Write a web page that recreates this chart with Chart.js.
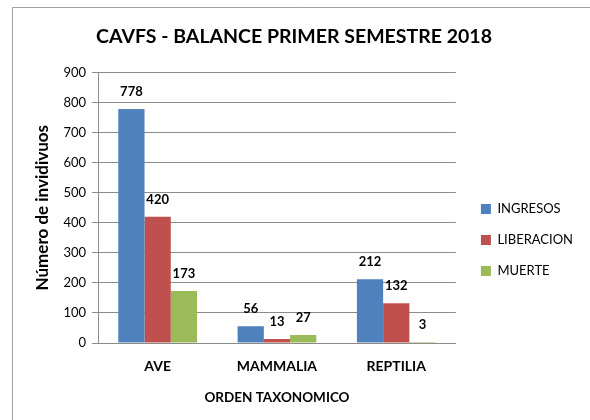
<!DOCTYPE html>
<html>
<head>
<meta charset="utf-8">
<script src="https://cdn.jsdelivr.net/npm/chart.js@4"></script>
<style>
  body { margin: 0; background: #fff; }
  #wrap { width: 590px; height: 420px; }
</style>
</head>
<body>
<div id="wrap"><canvas id="bar-chart" width="590" height="420"></canvas></div>
<script>
// datos del grafico
const categorias = ['AVE', 'MAMMALIA', 'REPTILIA'];
const ingresos = [778, 56, 212];
const liberacion = [420, 13, 132];
const muerte = [173, 27, 3];
const yTicks = [0, 100, 200, 300, 400, 500, 600, 700, 800, 900];

const FONT = 'Lato, "Liberation Sans", sans-serif';

// marco gris alrededor del grafico
const marco = {
  id: 'marco',
  beforeDraw(chart) {
    const ctx = chart.ctx;
    ctx.save();
    ctx.fillStyle = '#fff';
    ctx.fillRect(0, 0, chart.width, chart.height);
    ctx.strokeStyle = '#a0a0a0';
    ctx.lineWidth = 1;
    ctx.beginPath();
    ctx.moveTo(12.5, 430);
    ctx.lineTo(12.5, 7.5);
    ctx.lineTo(600, 7.5);
    ctx.stroke();
    ctx.restore();
  }
};

// etiquetas de valor encima de cada barra
const etiquetas = {
  id: 'etiquetas',
  afterDatasetsDraw(chart) {
    const ctx = chart.ctx;
    ctx.save();
    ctx.font = 'bold 13px ' + FONT;
    ctx.fillStyle = '#000';
    ctx.textAlign = 'center';
    ctx.textBaseline = 'middle';
    chart.data.datasets.forEach(function (ds, i) {
      chart.getDatasetMeta(i).data.forEach(function (bar, j) {
        ctx.fillText(ds.data[j], bar.x, bar.y - 17);
      });
    });
    ctx.restore();
  }
};

// mover la leyenda a su sitio
const moverLeyenda = {
  id: 'moverLeyenda',
  afterLayout(chart) {
    const lg = chart.legend;
    lg.left += 7; lg.right += 7;
    lg.top += 35; lg.bottom += 35;
  }
};

new Chart(document.getElementById('bar-chart'), {
  type: 'bar',
  data: {
    labels: categorias,
    datasets: [
      { label: 'INGRESOS', data: ingresos, backgroundColor: '#4F81BD' },
      { label: 'LIBERACION', data: liberacion, backgroundColor: '#C0504D' },
      { label: 'MUERTE', data: muerte, backgroundColor: '#9BBB59' }
    ]
  },
  options: {
    responsive: false,
    animation: false,
    layout: { padding: { left: 12, top: 0, right: 14, bottom: 10 } },
    datasets: { bar: { categoryPercentage: 0.66, barPercentage: 1.0 } },
    plugins: {
      title: {
        display: true,
        text: 'CAVFS - BALANCE PRIMER SEMESTRE 2018',
        color: '#000',
        font: { family: FONT, size: 19.5, weight: 'bold' },
        padding: { top: 25, bottom: 24 }
      },
      legend: {
        position: 'right',
        labels: {
          color: '#000',
          boxWidth: 10,
          boxHeight: 10,
          padding: 18,
          font: { family: FONT, size: 13 }
        }
      },
      tooltip: { enabled: false }
    },
    scales: {
      x: {
        grid: { display: false, drawTicks: false },
        border: { color: '#8c8c8c' },
        ticks: { color: '#000', padding: 15, font: { family: FONT, size: 14, weight: 'bold' } },
        title: {
          display: true, text: 'ORDEN TAXONOMICO', color: '#000',
          font: { family: FONT, size: 13.5, weight: 'bold' }, padding: { top: 12 }
        },
        afterFit(scale) { scale.height = 67; }
      },
      y: {
        min: 0, max: 900,
        afterBuildTicks(scale) { scale.ticks = yTicks.map(v => ({ value: v })); },
        grid: { color: '#8c8c8c', tickLength: 6 },
        border: { color: '#8c8c8c' },
        ticks: { color: '#000', padding: 6, font: { family: FONT, size: 13 } },
        title: {
          display: true, text: 'Número de invidivuos', color: '#000',
          font: { family: FONT, size: 17, weight: 'bold' }, padding: { top: 20 }
        },
        afterFit(scale) { scale.width = 86; }
      }
    }
  },
  plugins: [marco, etiquetas, moverLeyenda]
});
</script>
</body>
</html>
